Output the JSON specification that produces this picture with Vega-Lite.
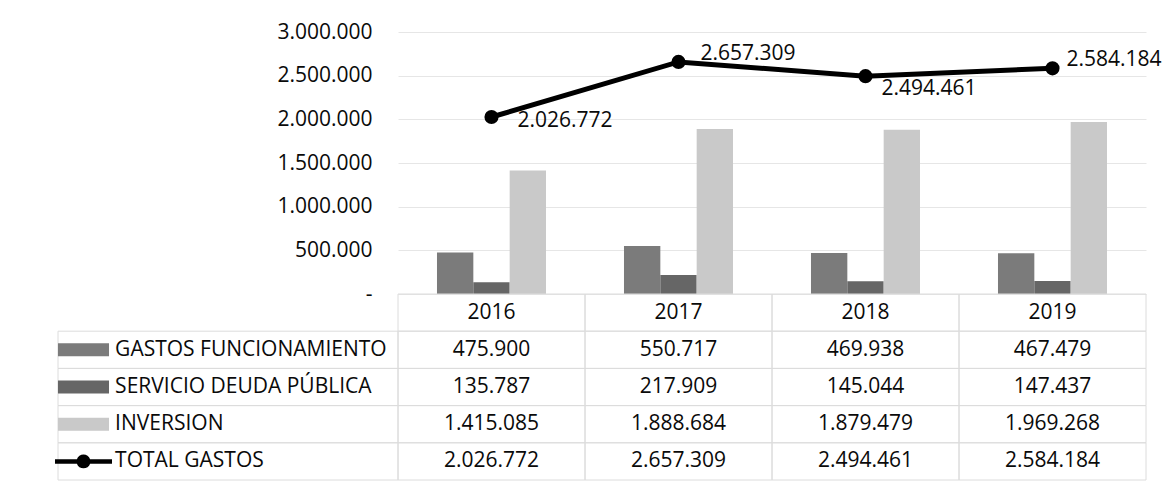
{
  "$schema": "https://vega.github.io/schema/vega-lite/v6.json",
  "padding": {"left": 54, "top": 21, "right": 0, "bottom": 0},
  "background": "white",
  "config": {
    "locale": {"number": {"decimal": ",", "thousands": ".", "grouping": [3], "currency": ["$", ""]}},
    "view": {"stroke": null},
    "font": "Open Sans",
    "text": {"font": "Open Sans", "fontSize": 21, "color": "#0a0a0a"},
    "axis": {"labelFont": "Open Sans"}
  },
  "datasets": {
    "gastos": [
      {"year": "2016", "series": "GASTOS FUNCIONAMIENTO", "value": 475900},
      {"year": "2016", "series": "SERVICIO DEUDA PÚBLICA", "value": 135787},
      {"year": "2016", "series": "INVERSION", "value": 1415085},
      {"year": "2016", "series": "TOTAL GASTOS", "value": 2026772},
      {"year": "2017", "series": "GASTOS FUNCIONAMIENTO", "value": 550717},
      {"year": "2017", "series": "SERVICIO DEUDA PÚBLICA", "value": 217909},
      {"year": "2017", "series": "INVERSION", "value": 1888684},
      {"year": "2017", "series": "TOTAL GASTOS", "value": 2657309},
      {"year": "2018", "series": "GASTOS FUNCIONAMIENTO", "value": 469938},
      {"year": "2018", "series": "SERVICIO DEUDA PÚBLICA", "value": 145044},
      {"year": "2018", "series": "INVERSION", "value": 1879479},
      {"year": "2018", "series": "TOTAL GASTOS", "value": 2494461},
      {"year": "2019", "series": "GASTOS FUNCIONAMIENTO", "value": 467479},
      {"year": "2019", "series": "SERVICIO DEUDA PÚBLICA", "value": 147437},
      {"year": "2019", "series": "INVERSION", "value": 1969268},
      {"year": "2019", "series": "TOTAL GASTOS", "value": 2584184}
    ]
  },
  "columns": 2,
  "spacing": 0,
  "bounds": "flush",
  "resolve": {"scale": {"x": "independent", "y": "independent"}},
  "concat": [
    {
      "width": 340,
      "height": 262,
      "data": {"values": []},
      "mark": "text",
      "encoding": {}
    },
    {
      "width": 748,
      "height": 262,
      "data": {"name": "gastos"},
      "layer": [
        {
          "transform": [{"filter": "datum.series !== 'TOTAL GASTOS'"}],
          "mark": {"type": "bar"},
          "encoding": {
            "x": {"field": "year", "type": "ordinal", "scale": {"paddingInner": 0.417, "paddingOuter": 0.2085}, "axis": null},
            "xOffset": {"field": "series", "type": "nominal", "scale": {"domain": ["GASTOS FUNCIONAMIENTO", "SERVICIO DEUDA PÚBLICA", "INVERSION"], "paddingInner": 0, "paddingOuter": 0}},
            "y": {
              "field": "value", "type": "quantitative",
              "scale": {"domain": [0, 3000000], "nice": false},
              "axis": {
                "values": [0, 500000, 1000000, 1500000, 2000000, 2500000, 3000000],
                "format": ",.0f",
                "labelExpr": "datum.value === 0 ? '-' : datum.label",
                "domain": false, "ticks": false, "labelPadding": 26,
                "labelFontSize": 21, "labelColor": "#0a0a0a", "labelFont": "Open Sans",
                "gridColor": "#e6e6e6", "title": null
              }
            },
            "color": {
              "field": "series", "type": "nominal",
              "scale": {"domain": ["GASTOS FUNCIONAMIENTO", "SERVICIO DEUDA PÚBLICA", "INVERSION", "TOTAL GASTOS"], "range": ["#7b7b7b", "#666666", "#c9c9c9", "#000000"]},
              "legend": null
            }
          }
        },
        {
          "transform": [{"filter": "datum.series === 'TOTAL GASTOS'"}],
          "mark": {"type": "line", "color": "#000000", "strokeWidth": 5},
          "encoding": {
            "x": {"field": "year", "type": "ordinal"},
            "y": {"field": "value", "type": "quantitative"}
          }
        },
        {
          "transform": [{"filter": "datum.series === 'TOTAL GASTOS'"}],
          "mark": {"type": "point", "filled": true, "color": "#000000", "size": 200, "opacity": 1},
          "encoding": {
            "x": {"field": "year", "type": "ordinal"},
            "y": {"field": "value", "type": "quantitative"}
          }
        },
        {
          "transform": [{"filter": "datum.series === 'TOTAL GASTOS' && datum.year === '2016'"}],
          "mark": {"type": "text", "align": "left", "baseline": "middle", "dx": 26, "dy": 4, "fontSize": 21, "color": "#0a0a0a"},
          "encoding": {
            "x": {"field": "year", "type": "ordinal"},
            "y": {"field": "value", "type": "quantitative"},
            "text": {"field": "value", "type": "quantitative", "format": ","}
          }
        },
        {
          "transform": [{"filter": "datum.series === 'TOTAL GASTOS' && datum.year === '2018'"}],
          "mark": {"type": "text", "align": "left", "baseline": "middle", "dx": 16, "dy": 13, "fontSize": 21, "color": "#0a0a0a"},
          "encoding": {
            "x": {"field": "year", "type": "ordinal"},
            "y": {"field": "value", "type": "quantitative"},
            "text": {"field": "value", "type": "quantitative", "format": ","}
          }
        },
        {
          "transform": [{"filter": "datum.series === 'TOTAL GASTOS' && datum.year === '2017'"}],
          "mark": {"type": "text", "align": "left", "baseline": "middle", "dx": 22, "dy": -8, "fontSize": 21, "color": "#0a0a0a"},
          "encoding": {
            "x": {"field": "year", "type": "ordinal"},
            "y": {"field": "value", "type": "quantitative"},
            "text": {"field": "value", "type": "quantitative", "format": ","}
          }
        },
        {
          "transform": [{"filter": "datum.series === 'TOTAL GASTOS' && datum.year === '2019'"}],
          "mark": {"type": "text", "align": "left", "baseline": "middle", "dx": 14, "dy": -8, "fontSize": 21, "color": "#0a0a0a"},
          "encoding": {
            "x": {"field": "year", "type": "ordinal"},
            "y": {"field": "value", "type": "quantitative"},
            "text": {"field": "value", "type": "quantitative", "format": ","}
          }
        }
      ]
    },
    {
      "width": 340,
      "height": 186,
      "data": {"name": "gastos"},
      "transform": [{"filter": "datum.year === '2016'"}],
      "layer": [
        {
          "mark": {"type": "rect", "fillOpacity": 0, "stroke": "#dcdcdc", "strokeWidth": 1},
          "encoding": {
            "y": {"field": "series", "type": "nominal", "scale": {"domain": ["header", "GASTOS FUNCIONAMIENTO", "SERVICIO DEUDA PÚBLICA", "INVERSION", "TOTAL GASTOS"], "paddingInner": 0, "paddingOuter": 0}, "axis": null}
          }
        },
        {
          "mark": {"type": "point", "filled": true, "size": 4225, "opacity": 1, "strokeWidth": 0},
          "encoding": {
            "y": {"field": "series", "type": "nominal"},
            "x": {"datum": 0.075, "type": "quantitative", "scale": {"domain": [0, 1]}, "axis": null},
            "shape": {
              "field": "series", "type": "nominal",
              "scale": {
                "domain": ["GASTOS FUNCIONAMIENTO", "SERVICIO DEUDA PÚBLICA", "INVERSION", "TOTAL GASTOS"],
                "range": [
                  "M-0.785,-0.2H0.785V0.2H-0.785Z",
                  "M-0.785,-0.2H0.785V0.2H-0.785Z",
                  "M-0.785,-0.2H0.785V0.2H-0.785Z",
                  "M-0.877,-0.07H-0.203A0.215,0.215 0 0,1 0.203,-0.07H0.877V0.07H0.203A0.215,0.215 0 0,1 -0.203,0.07H-0.877Z"
                ]
              },
              "legend": null
            },
            "color": {
              "field": "series", "type": "nominal",
              "scale": {"domain": ["GASTOS FUNCIONAMIENTO", "SERVICIO DEUDA PÚBLICA", "INVERSION", "TOTAL GASTOS"], "range": ["#7b7b7b", "#666666", "#c9c9c9", "#000000"]},
              "legend": null
            }
          }
        },
        {
          "mark": {"type": "text", "align": "left", "baseline": "middle", "fontSize": 21, "color": "#0a0a0a"},
          "encoding": {
            "y": {"field": "series", "type": "nominal"},
            "x": {"datum": 0.168, "type": "quantitative"},
            "text": {"field": "series", "type": "nominal"}
          }
        }
      ]
    },
    {
      "width": 748,
      "height": 186,
      "data": {"name": "gastos"},
      "layer": [
        {
          "mark": {"type": "rect", "fillOpacity": 0, "stroke": "#dcdcdc", "strokeWidth": 1},
          "encoding": {
            "x": {"field": "year", "type": "ordinal", "scale": {"paddingInner": 0, "paddingOuter": 0}, "axis": null},
            "y": {"field": "series", "type": "nominal", "scale": {"domain": ["header", "GASTOS FUNCIONAMIENTO", "SERVICIO DEUDA PÚBLICA", "INVERSION", "TOTAL GASTOS"], "paddingInner": 0, "paddingOuter": 0}, "axis": null}
          }
        },
        {
          "transform": [{"filter": "datum.series === 'GASTOS FUNCIONAMIENTO'"}],
          "mark": {"type": "rect", "fillOpacity": 0, "stroke": "#dcdcdc", "strokeWidth": 1},
          "encoding": {
            "x": {"field": "year", "type": "ordinal"},
            "y": {"datum": "header", "type": "nominal"}
          }
        },
        {
          "mark": {"type": "text", "align": "center", "baseline": "middle", "fontSize": 21, "color": "#0a0a0a"},
          "encoding": {
            "x": {"field": "year", "type": "ordinal"},
            "y": {"field": "series", "type": "nominal"},
            "text": {"field": "value", "type": "quantitative", "format": ","}
          }
        },
        {
          "transform": [{"filter": "datum.series === 'GASTOS FUNCIONAMIENTO'"}],
          "mark": {"type": "text", "align": "center", "baseline": "middle", "fontSize": 21, "color": "#0a0a0a"},
          "encoding": {
            "x": {"field": "year", "type": "ordinal"},
            "y": {"datum": "header", "type": "nominal"},
            "text": {"field": "year", "type": "nominal"}
          }
        }
      ]
    }
  ]
}
